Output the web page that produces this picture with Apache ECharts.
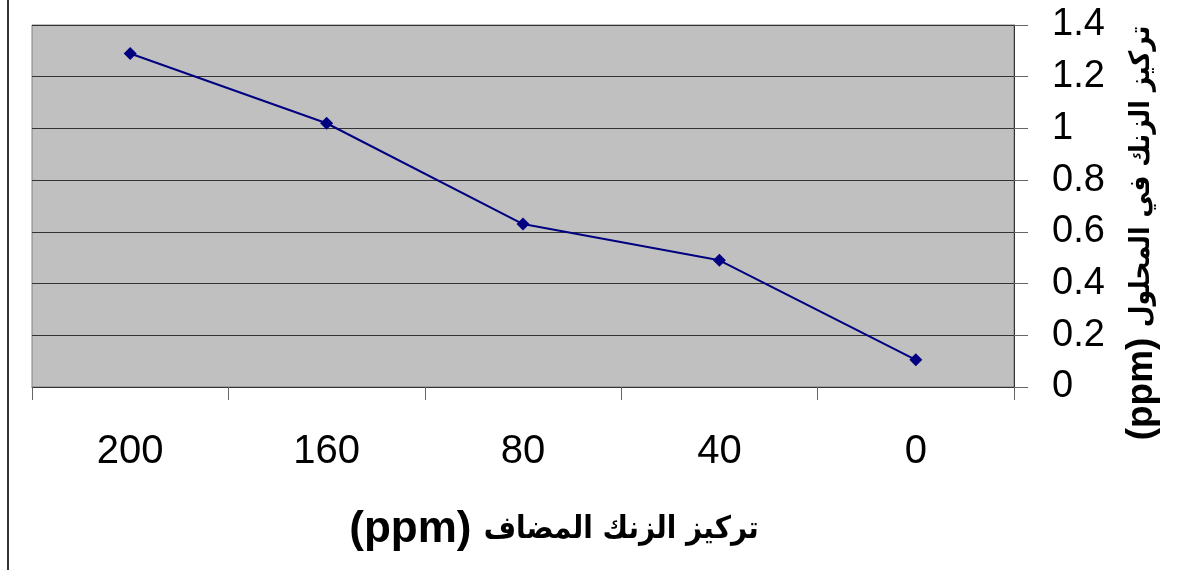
<!DOCTYPE html>
<html>
<head>
<meta charset="utf-8">
<script src="https://cdn.jsdelivr.net/npm/echarts@6/dist/echarts.min.js"></script>
<style>
html,body{margin:0;padding:0;background:#fff;}
#c{width:1179px;height:570px;}
</style>
</head>
<body>
<div id="c"></div>
<script>
var categories = ['200', '160', '80', '40', '0'];
var zincValues = [1.29, 1.02, 0.63, 0.49, 0.105];
var yTicks = {min: 0, max: 1.4, interval: 0.2};
var unitText = '(ppm)';
var xTitleAr = 'تركيز الزنك المضاف';
var yTitleAr = 'تركيز الزنك في المحلول';

function rtl(s) { return '\u202B' + s + '\u202C'; }

var FONT = '"Liberation Sans", Arial, sans-serif';
var AR_FONT = '"DejaVu Sans Condensed", "DejaVu Sans", sans-serif';
function titleRich(ar, latinSize, arSize) {
  return {
    text: '{p|' + unitText + ' }{a|' + rtl(ar) + '}',
    rich: {
      p: {fontFamily: FONT, fontWeight: 'bold', fontSize: latinSize, fill: '#000'},
      a: {fontFamily: AR_FONT, fontWeight: 'bold', fontSize: arSize, fill: '#000'}
    }
  };
}

var chart = echarts.init(document.getElementById('c'), null, {renderer: 'canvas'});
var xt = titleRich(xTitleAr, 44, 31);
var yt = titleRich(yTitleAr, 37, 28);
chart.setOption({
  animation: false,
  backgroundColor: '#ffffff',
  grid: {
    left: 32, right: 165, top: 25, bottom: 183,
    show: true, backgroundColor: '#c0c0c0', borderColor: '#808080', borderWidth: 1
  },
  xAxis: {
    type: 'category',
    data: categories,
    boundaryGap: true,
    axisLine: {show: true, lineStyle: {color: '#333333', width: 1}},
    axisTick: {show: true, length: 13, lineStyle: {color: '#666666'}},
    axisLabel: {color: '#000', fontSize: 40, fontFamily: FONT, margin: 45}
  },
  yAxis: {
    type: 'value',
    position: 'right',
    min: yTicks.min, max: yTicks.max, interval: yTicks.interval,
    axisLine: {show: true, lineStyle: {color: '#333333', width: 1}},
    axisTick: {show: true, length: 14, lineStyle: {color: '#666666'}},
    axisLabel: {color: '#000', fontSize: 38, fontFamily: FONT, margin: 38},
    splitLine: {show: true, lineStyle: {color: '#333333', width: 1}}
  },
  graphic: [
    {type: 'line', shape: {x1: 8, y1: 0, x2: 8, y2: 570}, style: {stroke: '#333333', lineWidth: 2}},
    {type: 'text', x: 554, y: 530,
     style: {text: xt.text, rich: xt.rich, textAlign: 'center', textVerticalAlign: 'middle'}},
    {type: 'text', x: 1142, y: 233, rotation: Math.PI / 2,
     style: {text: yt.text, rich: yt.rich, textAlign: 'center', textVerticalAlign: 'middle'}}
  ],
  series: [{
    type: 'line',
    data: zincValues,
    symbol: 'diamond',
    symbolSize: 13,
    itemStyle: {color: '#000080'},
    lineStyle: {color: '#000080', width: 2}
  }]
});
</script>
</body>
</html>
